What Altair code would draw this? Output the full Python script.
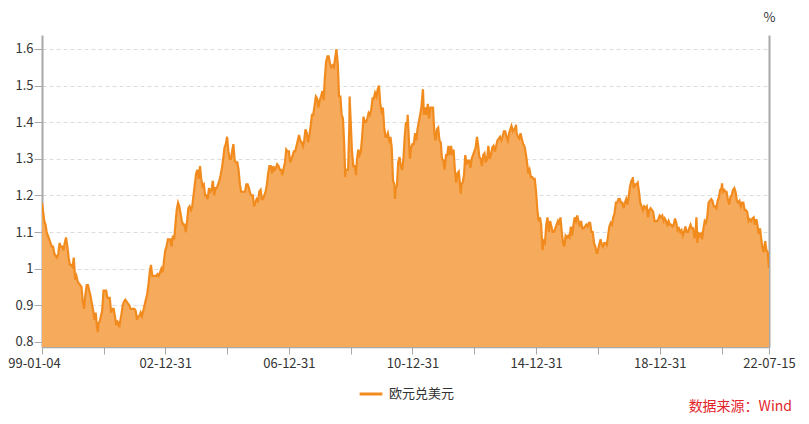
import altair as alt
import pandas as pd

# EUR/USD: for each year, pairs of (mid-month, month-end) values
eurusd_1999 = [1.160, 1.130, 1.120, 1.100, 1.090, 1.080, 1.070, 1.060, 1.060, 1.040, 1.035, 1.030,
               1.040, 1.070, 1.060, 1.060, 1.050, 1.070, 1.085, 1.060, 1.030, 1.010, 1.010, 1.005]
eurusd_2000 = [1.030, 0.970, 0.980, 0.965, 0.960, 0.955, 0.950, 0.910, 0.890, 0.930, 0.955, 0.955,
               0.940, 0.925, 0.905, 0.885, 0.860, 0.880, 0.840, 0.850, 0.855, 0.870, 0.885, 0.940]
eurusd_2001 = [0.940, 0.940, 0.920, 0.920, 0.920, 0.880, 0.890, 0.890, 0.870, 0.845, 0.855, 0.850,
               0.855, 0.875, 0.900, 0.910, 0.915, 0.910, 0.905, 0.900, 0.890, 0.890, 0.890, 0.890]
eurusd_2002 = [0.885, 0.860, 0.870, 0.870, 0.880, 0.870, 0.885, 0.900, 0.915, 0.930, 0.955, 0.990,
               1.010, 0.980, 0.980, 0.980, 0.980, 0.985, 0.980, 0.990, 1.000, 0.990, 1.020, 1.050]
eurusd_2003 = [1.060, 1.080, 1.080, 1.080, 1.060, 1.090, 1.080, 1.120, 1.160, 1.180, 1.170, 1.150,
               1.130, 1.120, 1.120, 1.100, 1.130, 1.165, 1.170, 1.160, 1.170, 1.200, 1.230, 1.260]
eurusd_2004 = [1.270, 1.245, 1.280, 1.245, 1.225, 1.230, 1.200, 1.200, 1.190, 1.220, 1.210, 1.215,
               1.240, 1.200, 1.220, 1.220, 1.230, 1.240, 1.255, 1.275, 1.300, 1.330, 1.340, 1.360]
eurusd_2005 = [1.320, 1.300, 1.300, 1.320, 1.340, 1.295, 1.290, 1.290, 1.270, 1.230, 1.210, 1.210,
               1.210, 1.210, 1.230, 1.230, 1.220, 1.205, 1.200, 1.200, 1.170, 1.180, 1.190, 1.185]
eurusd_2006 = [1.210, 1.215, 1.190, 1.190, 1.200, 1.210, 1.230, 1.260, 1.280, 1.280, 1.260, 1.280,
               1.270, 1.275, 1.285, 1.280, 1.270, 1.270, 1.255, 1.275, 1.290, 1.325, 1.320, 1.320]
eurusd_2007 = [1.290, 1.300, 1.310, 1.320, 1.320, 1.335, 1.350, 1.365, 1.350, 1.345, 1.335, 1.350,
               1.380, 1.370, 1.345, 1.365, 1.390, 1.420, 1.420, 1.445, 1.470, 1.465, 1.440, 1.460]
eurusd_2008 = [1.470, 1.485, 1.460, 1.520, 1.565, 1.580, 1.580, 1.560, 1.550, 1.555, 1.550, 1.575,
               1.595, 1.560, 1.470, 1.470, 1.420, 1.410, 1.340, 1.270, 1.270, 1.270, 1.400, 1.400]
eurusd_2009 = [1.320, 1.280, 1.280, 1.265, 1.300, 1.325, 1.310, 1.320, 1.360, 1.415, 1.400, 1.400,
               1.410, 1.425, 1.420, 1.435, 1.465, 1.465, 1.480, 1.470, 1.490, 1.500, 1.450, 1.430]
eurusd_2010 = [1.440, 1.385, 1.360, 1.360, 1.370, 1.350, 1.360, 1.330, 1.240, 1.230, 1.220, 1.225,
               1.290, 1.305, 1.280, 1.270, 1.300, 1.360, 1.400, 1.390, 1.370, 1.300, 1.330, 1.340]
eurusd_2011 = [1.340, 1.370, 1.350, 1.380, 1.400, 1.420, 1.440, 1.480, 1.420, 1.440, 1.420, 1.450,
               1.410, 1.440, 1.440, 1.440, 1.370, 1.350, 1.380, 1.385, 1.350, 1.345, 1.300, 1.295]
eurusd_2012 = [1.270, 1.310, 1.310, 1.335, 1.310, 1.335, 1.310, 1.325, 1.270, 1.235, 1.260, 1.265,
               1.230, 1.230, 1.235, 1.255, 1.310, 1.285, 1.295, 1.295, 1.275, 1.300, 1.310, 1.320]
eurusd_2013 = [1.330, 1.360, 1.335, 1.305, 1.300, 1.280, 1.310, 1.315, 1.290, 1.300, 1.335, 1.300,
               1.310, 1.330, 1.335, 1.320, 1.335, 1.350, 1.355, 1.360, 1.350, 1.360, 1.375, 1.375]
eurusd_2014 = [1.360, 1.350, 1.370, 1.380, 1.390, 1.375, 1.380, 1.385, 1.370, 1.360, 1.355, 1.370,
               1.355, 1.340, 1.335, 1.315, 1.290, 1.260, 1.270, 1.250, 1.250, 1.245, 1.245, 1.210]
eurusd_2015 = [1.160, 1.130, 1.140, 1.120, 1.060, 1.075, 1.070, 1.120, 1.140, 1.100, 1.130, 1.115,
               1.100, 1.100, 1.110, 1.120, 1.130, 1.120, 1.140, 1.100, 1.070, 1.060, 1.090, 1.085]
eurusd_2016 = [1.090, 1.085, 1.115, 1.090, 1.115, 1.140, 1.130, 1.145, 1.130, 1.115, 1.130, 1.110,
               1.110, 1.115, 1.120, 1.115, 1.125, 1.125, 1.100, 1.100, 1.070, 1.060, 1.045, 1.050]
eurusd_2017 = [1.065, 1.080, 1.065, 1.060, 1.070, 1.070, 1.065, 1.090, 1.115, 1.125, 1.120, 1.140,
               1.150, 1.180, 1.180, 1.190, 1.190, 1.180, 1.180, 1.165, 1.180, 1.190, 1.175, 1.200]
eurusd_2018 = [1.225, 1.240, 1.245, 1.220, 1.230, 1.230, 1.235, 1.210, 1.180, 1.170, 1.160, 1.170,
               1.165, 1.170, 1.140, 1.160, 1.165, 1.160, 1.155, 1.130, 1.130, 1.130, 1.135, 1.145]
eurusd_2019 = [1.140, 1.145, 1.130, 1.137, 1.130, 1.120, 1.130, 1.120, 1.120, 1.115, 1.120, 1.137,
               1.125, 1.105, 1.110, 1.100, 1.105, 1.090, 1.100, 1.115, 1.100, 1.100, 1.110, 1.120]
eurusd_2020 = [1.110, 1.110, 1.083, 1.100, 1.110, 1.100, 1.090, 1.095, 1.080, 1.110, 1.130, 1.125,
               1.140, 1.180, 1.185, 1.190, 1.185, 1.170, 1.170, 1.165, 1.185, 1.195, 1.215, 1.220]
eurusd_2021 = [1.210, 1.215, 1.210, 1.210, 1.190, 1.175, 1.195, 1.200, 1.215, 1.220, 1.210, 1.185,
               1.180, 1.185, 1.170, 1.180, 1.180, 1.160, 1.160, 1.155, 1.130, 1.135, 1.130, 1.137]
eurusd_2022 = [1.140, 1.120, 1.135, 1.120, 1.095, 1.110, 1.080, 1.055, 1.045, 1.075, 1.050, 1.045]

# Single-day extremes visible in the reference
extreme_dates = ["1999-01-04", "2000-10-26", "2001-07-06", "2008-07-15", "2008-10-27",
                 "2008-12-18", "2009-03-04", "2010-06-07", "2010-11-04", "2011-05-04",
                 "2012-07-24", "2014-05-08", "2015-03-16", "2016-12-20", "2018-02-16",
                 "2020-03-09", "2020-03-20", "2021-01-06", "2022-07-14", "2022-07-15"]
extreme_values = [1.179, 0.827, 0.840, 1.599, 1.250,
                  1.470, 1.255, 1.190, 1.420, 1.490,
                  1.205, 1.393, 1.050, 1.040, 1.250,
                  1.140, 1.070, 1.233, 1.002, 1.008]

y_ticks = [0.8, 0.9, 1.0, 1.1, 1.2, 1.3, 1.4, 1.5, 1.6]
x_tick_dates = [(1999, 1, 4), (2000, 12, 31), (2002, 12, 31), (2004, 12, 31), (2006, 12, 31),
                (2008, 12, 31), (2010, 12, 31), (2012, 12, 31), (2014, 12, 31), (2016, 12, 31),
                (2018, 12, 31), (2020, 12, 31), (2022, 7, 15)]
x_labels_shown = ["99-01-04", "02-12-31", "06-12-31", "10-12-31", "14-12-31", "18-12-31", "22-07-15"]
series_name = "欧元兑美元"
source_text = "数据来源：Wind"

yearly = {
    1999: eurusd_1999, 2000: eurusd_2000, 2001: eurusd_2001, 2002: eurusd_2002,
    2003: eurusd_2003, 2004: eurusd_2004, 2005: eurusd_2005, 2006: eurusd_2006,
    2007: eurusd_2007, 2008: eurusd_2008, 2009: eurusd_2009, 2010: eurusd_2010,
    2011: eurusd_2011, 2012: eurusd_2012, 2013: eurusd_2013, 2014: eurusd_2014,
    2015: eurusd_2015, 2016: eurusd_2016, 2017: eurusd_2017, 2018: eurusd_2018,
    2019: eurusd_2019, 2020: eurusd_2020, 2021: eurusd_2021, 2022: eurusd_2022,
}

rows = []
for yr, vals in yearly.items():
    for i in range(len(vals) // 2):
        m = i + 1
        mid = pd.Timestamp(year=yr, month=m, day=15)
        end = mid + pd.offsets.MonthEnd(0)
        rows.append((mid, vals[2 * i]))
        rows.append((end, vals[2 * i + 1]))
for d, v in zip(extreme_dates, extreme_values):
    rows.append((pd.Timestamp(d), v))

df = pd.DataFrame(rows, columns=["date", "value"])
df = df[(df["date"] >= pd.Timestamp("1999-01-04")) & (df["date"] <= pd.Timestamp("2022-07-15"))]
df = df.sort_values("date").drop_duplicates("date", keep="last")
df["date"] = df["date"].dt.strftime("%Y-%m-%d")
df["series"] = series_name

FONT = "Noto Sans CJK SC"
LINE = "#F28B1E"
FILL = "#F5AA5C"
AXIS = "#A8A8A8"
TEXT = "#333333"

tick_vals = [alt.DateTime(year=y, month=m, date=d, utc=True) for (y, m, d) in x_tick_dates]
label_list = "[" + ",".join("'" + s + "'" for s in x_labels_shown) + "]"
label_expr = ("indexof(" + label_list + ", utcFormat(datum.value, '%y-%m-%d')) >= 0 ? "
              "utcFormat(datum.value, '%y-%m-%d') : ''")

x_enc = alt.X(
    "date:T",
    scale=alt.Scale(type="utc",
                    domain=[tick_vals[0], tick_vals[-1]]),
    axis=alt.Axis(values=tick_vals, labelExpr=label_expr, title=None, grid=False,
                  domainColor=AXIS, domainWidth=1.5, tickColor=AXIS, tickSize=7,
                  labelColor=TEXT, labelFontSize=13, labelFont=FONT, labelPadding=3,
                  labelOverlap=False, labelBound=False, labelFlush=False,
                  labelOffset={"condition": {"test": "datum.value < 946684800000", "value": -8},
                               "value": 0}),
)
y_scale = alt.Scale(domain=[0.786, 1.638], nice=False, zero=False)
y_enc = alt.Y(
    "value:Q", scale=y_scale,
    axis=alt.Axis(values=y_ticks, format=".1~f", title=None, grid=True,
                  gridDash=[4, 3], gridColor="#DDDDDD", gridWidth=1,
                  domainColor=AXIS, domainWidth=2, tickColor=AXIS, tickSize=8,
                  labelColor=TEXT, labelFontSize=13, labelFont=FONT, labelPadding=1),
)

base = alt.Chart(df)
area = base.mark_area(color=FILL, opacity=1, clip=True).encode(x=x_enc, y=y_enc)
line = base.mark_line(strokeWidth=2.2, interpolate="linear", clip=True).encode(
    x=x_enc, y=y_enc,
    stroke=alt.Stroke("series:N",
                      scale=alt.Scale(domain=[series_name], range=[LINE]),
                      legend=alt.Legend(orient="none", legendX=316, legendY=346, title=None,
                                        symbolType="stroke", symbolStrokeWidth=3,
                                        symbolSize=520, labelFontSize=13, labelFont=FONT,
                                        labelColor=TEXT, labelOffset=5)),
)
right = base.mark_line(opacity=0).encode(
    x=x_enc,
    y=alt.Y("value:Q", scale=y_scale,
            axis=alt.Axis(orient="right", labels=False, ticks=False, grid=False,
                          domainColor=AXIS, domainWidth=2, title="%", titleAngle=0,
                          titleX=0, titleY=-18, titleAlign="center", titleBaseline="middle",
                          titleFont=FONT, titleFontSize=13, titleFontWeight="normal",
                          titleColor=TEXT)),
)
source = alt.Chart(pd.DataFrame({"t": [source_text]})).mark_text(
    align="right", baseline="middle", font=FONT, fontSize=14, color="#E3262C"
).encode(x=alt.value(750), y=alt.value(372), text="t:N")

chart = alt.layer(
    alt.layer(area, line), right, source
).resolve_scale(y="independent").properties(
    width=727, height=312,
    background="white",
    autosize=alt.AutoSizeParams(type="none"),
    padding={"left": 34, "top": 27, "right": 32, "bottom": 69},
).configure_view(stroke=None)

chart.save("out.html", embed_options={"renderer": "svg", "actions": False})
